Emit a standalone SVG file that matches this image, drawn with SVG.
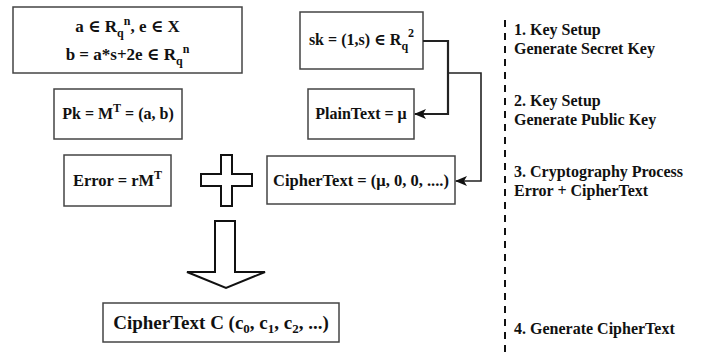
<svg xmlns="http://www.w3.org/2000/svg" width="701" height="354" viewBox="0 0 701 354">
<defs>
<style>
.box{fill:#fff;stroke:#444;stroke-width:1.5}
text{font-family:'Liberation Serif','Times New Roman','DejaVu Serif',serif;font-weight:bold;fill:#111}
.c{text-anchor:middle}
.conn{fill:none;stroke:#222}
.shape{fill:#fff;stroke:#111;stroke-width:2;stroke-linejoin:miter}
</style>
<marker id="ah" viewBox="0 0 12 10" refX="11" refY="5" markerWidth="12" markerHeight="10" markerUnits="userSpaceOnUse" orient="auto">
<path d="M0,0 L12,5 L0,10 L3,5 z" fill="#111"/>
</marker>
</defs>
<rect width="701" height="354" fill="#fff"/>

<g id="params">
<rect class="box" x="13" y="7" width="229" height="66"/>
<text class="c" x="127.5" y="32" font-size="17">a ∈ R<tspan font-size="12" dy="5">q</tspan><tspan font-size="12" dy="-12">n</tspan><tspan dy="7">, e ∈ X</tspan></text>
<text class="c" x="127.5" y="60" font-size="17">b = a*s+2e ∈ R<tspan font-size="12" dy="5">q</tspan><tspan font-size="12" dy="-12">n</tspan></text>
</g>

<g id="pk">
<rect class="box" x="54" y="89" width="128" height="50"/>
<text class="c" x="118" y="119" font-size="16">Pk = M<tspan font-size="12" dy="-7">T</tspan><tspan dy="7"> = (a, b)</tspan></text>
</g>

<g id="error">
<rect class="box" x="64" y="155" width="107" height="51"/>
<text class="c" x="117.5" y="186" font-size="16.5">Error = rM<tspan font-size="12" dy="-7">T</tspan></text>
</g>

<g id="plus">
<path class="shape" d="M221,155 H232 V174 H252 V186 H232 V206 H221 V186 H201 V174 H221 Z"/>
</g>

<g id="downarrow">
<path class="shape" d="M215,221 H235 V272 H265 L226,288 L187,272 H215 Z"/>
</g>

<g id="ciphertextC">
<rect class="box" x="103" y="303" width="236" height="39"/>
<text class="c" x="221" y="329" font-size="19">CipherText C (c<tspan font-size="13" dy="4">0</tspan><tspan dy="-4">, c</tspan><tspan font-size="13" dy="4">1</tspan><tspan dy="-4">, c</tspan><tspan font-size="13" dy="4">2</tspan><tspan dy="-4">, ...)</tspan></text>
</g>

<g id="sk">
<rect class="box" x="300" y="12" width="123" height="57"/>
<text class="c" x="361.5" y="45" font-size="16">sk = (1,s) ∈ R<tspan font-size="12" dy="5">q</tspan><tspan font-size="12" dy="-13">2</tspan></text>
</g>

<g id="plaintext">
<rect class="box" x="308" y="89" width="106" height="50"/>
<text class="c" x="361" y="119" font-size="16">PlainText = μ</text>
</g>

<g id="ciphertext">
<rect class="box" x="267" y="156" width="188" height="48"/>
<text class="c" x="361" y="186" font-size="16.5">CipherText = (μ, 0, 0, ....)</text>
</g>

<g id="connectors">
<path class="conn" stroke-width="2.2" d="M423,41 H448 V114 H415" marker-end="url(#ah)"/>
<path class="conn" stroke-width="1.6" d="M448,73 H481 V181 H456" marker-end="url(#ah)"/>
</g>

<g id="steps" font-size="16">
<line x1="505" y1="20" x2="505" y2="354" stroke="#111" stroke-width="2" stroke-dasharray="7,6"/>
<text x="514" y="35">1. Key Setup</text>
<text x="514" y="54">Generate Secret Key</text>
<text x="514" y="106">2. Key Setup</text>
<text x="514" y="125">Generate Public Key</text>
<text x="514" y="177">3. Cryptography Process</text>
<text x="514" y="196">Error + CipherText</text>
<text x="514" y="334">4. Generate CipherText</text>
</g>
</svg>
